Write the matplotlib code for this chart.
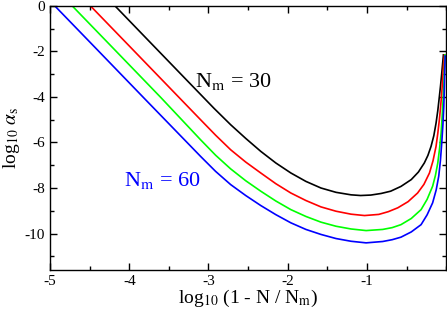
import matplotlib
matplotlib.use("Agg")
import matplotlib.pyplot as plt
from matplotlib.ticker import MultipleLocator

plt.rcParams['font.family'] = ['Liberation Serif', 'DejaVu Serif']
plt.rcParams['mathtext.fontset'] = 'stix'
plt.rcParams['axes.unicode_minus'] = False

# log10(1 - N/Nm) vs log10(alpha_s)
x_30 = [-4.30, -4.18, -3.80, -3.30, -2.93, -2.72, -2.53, -2.34, -2.15, -1.96, -1.77,
        -1.58, -1.39, -1.20, -1.08, -0.95, -0.82, -0.70, -0.57, -0.44, -0.35, -0.275,
        -0.23, -0.19, -0.155, -0.127, -0.105, -0.085, -0.07, -0.055, -0.034]
y_30 = [0.43, 0.0, -1.37, -3.17, -4.50, -5.22, -5.82, -6.39, -6.90, -7.34, -7.71,
        -8.00, -8.19, -8.30, -8.33, -8.31, -8.24, -8.14, -7.93, -7.63, -7.30, -6.90,
        -6.57, -6.17, -5.70, -5.15, -4.60, -3.98, -3.50, -2.95, -2.15]

x_40 = [-4.62, -4.49, -4.00, -3.50, -3.10, -2.91, -2.72, -2.53, -2.34, -2.15, -1.96,
        -1.77, -1.58, -1.39, -1.20, -1.03, -0.85, -0.73, -0.61, -0.48, -0.36, -0.28,
        -0.21, -0.165, -0.127, -0.105, -0.085, -0.07, -0.055, -0.044, -0.034, -0.021]
y_40 = [0.47, 0.0, -1.76, -3.56, -5.00, -5.68, -6.32, -6.86, -7.34, -7.81, -8.22,
        -8.55, -8.83, -9.02, -9.15, -9.21, -9.16, -9.04, -8.87, -8.60, -8.22, -7.84,
        -7.34, -6.80, -6.17, -5.60, -5.00, -4.45, -3.83, -3.25, -2.66, -2.15]

x_50 = [-4.85, -4.72, -4.20, -3.60, -3.10, -2.91, -2.72, -2.53, -2.34, -2.15, -1.96,
        -1.77, -1.58, -1.39, -1.20, -1.01, -0.80, -0.68, -0.57, -0.44, -0.316, -0.24,
        -0.17, -0.135, -0.105, -0.082, -0.063, -0.05, -0.038, -0.028, -0.021, -0.015]
y_50 = [0.47, 0.0, -1.87, -4.03, -5.88, -6.56, -7.16, -7.68, -8.14, -8.57, -8.95,
        -9.25, -9.50, -9.68, -9.80, -9.87, -9.82, -9.74, -9.61, -9.34, -8.95, -8.50,
        -7.92, -7.45, -6.90, -6.25, -5.58, -4.85, -4.12, -3.45, -2.81, -2.15]

x_60 = [-5.00, -4.94, -4.40, -3.80, -3.10, -2.91, -2.72, -2.53, -2.34, -2.15, -1.96,
        -1.77, -1.58, -1.39, -1.20, -1.01, -0.80, -0.68, -0.57, -0.44, -0.316, -0.24,
        -0.17, -0.125, -0.093, -0.072, -0.055, -0.04, -0.029, -0.022, -0.017, -0.012]
y_60 = [0.22, 0.0, -1.94, -4.10, -6.61, -7.27, -7.85, -8.33, -8.77, -9.17, -9.53,
        -9.82, -10.04, -10.22, -10.34, -10.41, -10.35, -10.27, -10.16, -9.93, -9.61, -9.18,
        -8.65, -8.08, -7.48, -6.80, -6.02, -5.20, -4.42, -3.60, -2.81, -2.20]

x_ticks = [-5, -4, -3, -2, -1]
y_ticks = [0, -2, -4, -6, -8, -10]


def plot_alpha():
    fig = plt.figure(figsize=(4.47, 3.11), dpi=100)
    ax = fig.add_axes([0.112, 0.132, 0.886, 0.849])

    ax.plot(x_30, y_30, color='black', lw=1.2)
    ax.plot(x_40, y_40, color='#ff0000', lw=1.2)
    ax.plot(x_50, y_50, color='#00ff00', lw=1.2)
    ax.plot(x_60, y_60, color='#0000ff', lw=1.2)

    ax.set_xlim(-5, 0)
    ax.set_ylim(-11.6, 0)
    ax.set_xticks(x_ticks)
    ax.set_xticklabels([str(t) for t in x_ticks])
    ax.set_yticks(y_ticks)
    ax.set_yticklabels([str(t) for t in y_ticks])
    ax.xaxis.set_minor_locator(MultipleLocator(0.5))
    ax.yaxis.set_minor_locator(MultipleLocator(1))
    ax.tick_params(which='both', direction='in', top=True, right=True, labelsize=11)
    ax.tick_params(which='major', length=5, width=1)
    ax.tick_params(which='minor', length=3, width=1)
    for s in ax.spines.values():
        s.set_linewidth(1)

    ax.set_xlabel(r'log$_{10}$ (1 - N / N$_{\rm m}$)', fontsize=14, labelpad=0)
    ax.set_ylabel(r'log$_{10}$ $\alpha_{\rm s}$', fontsize=14, labelpad=2)

    ax.text(-3.17, -3.33, r'N$_{\rm m}$ = 30', color='black', fontsize=16, va='center')
    ax.text(-4.07, -7.68, r'N$_{\rm m}$ = 60', color='#0000ff', fontsize=16, va='center')

    fig.savefig('out.png', dpi=100)
    plt.close(fig)


if __name__ == "__main__":
    plot_alpha()
